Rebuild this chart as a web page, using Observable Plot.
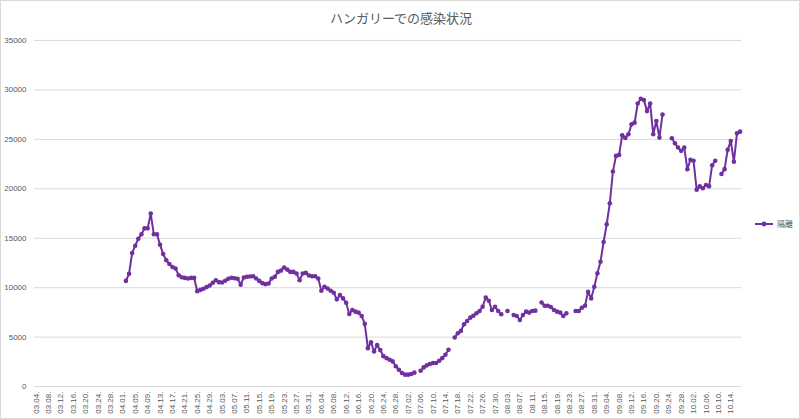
<!DOCTYPE html>
<html>
<head>
<meta charset="utf-8">
<script src="https://cdn.jsdelivr.net/npm/d3@7"></script>
<script src="https://cdn.jsdelivr.net/npm/@observablehq/plot@0.6"></script>
<style>
  html, body { margin: 0; padding: 0; background: #fff; }
  #wrap { position: relative; width: 800px; height: 419px; box-sizing: border-box; border: 1px solid #d9d9d9; overflow: hidden; }
  #title { position: absolute; left: 0; top: 0; width: 800px; height: 30px; line-height: 34px; text-align: center;
           font-family: "Noto Sans CJK JP", sans-serif; font-size: 13px; color: #595959; }
  #chart { position: absolute; left: -1px; top: 29px; }
  #legend { position: absolute; left: 753px; top: 217px; display: flex; align-items: center;
            font-family: "Noto Sans CJK JP", sans-serif; font-size: 8px; color: #595959; }
  #legend svg { margin-right: 3px; }
</style>
</head>
<body>
<div id="wrap">
  <div id="title">ハンガリーでの感染状況</div>
  <div id="chart"></div>
  <div id="legend"><svg width="20" height="10"><line x1="1" x2="19" y1="5" y2="5" stroke="#7030a0" stroke-width="2"/><circle cx="10" cy="5" r="2.4" fill="#7030a0"/></svg><span>隔離</span></div>
</div>
<script>
// Categories: daily dates 03.04 – 10.17 (2020)
const startDate = "2020-03-04";
const endDate = "2020-10-18";
const seriesName = "隔離";

// Values per day (null = no data)
const values = [
  null,null,null,null,null,null,null,null,null,null,   // 0-9
  null,null,null,null,null,null,null,null,null,null,   // 10-19
  null,null,null,null,null,null,null,null,null,        // 20-28
  10690,11400,13500,14250,14950,15400,16000,16000,17500,15400, // 29-38
  15400,14350,13400,12770,12400,12100,11950,11260,11050,10990, // 39-48
  10930,10990,10990,9650,9780,9900,10060,10230,10500,10760,    // 49-58
  10560,10530,10700,10900,11000,10960,10900,10300,11030,11100, // 59-68
  11130,11160,10930,10690,10460,10360,10430,10930,11100,11600, // 69-78
  11730,12040,11830,11600,11600,11430,10760,11430,11500,11230, // 79-88
  11160,11160,10930,9690,10090,9920,9690,9490,8820,9250,       // 89-98
  8920,8480,7340,7740,7580,7480,7140,6340,3890,4490,           // 99-108
  3550,4190,3690,3080,2880,2720,2550,2050,1710,1370,           // 109-118
  1210,1210,1270,1410,null,1610,1940,2150,2280,2380,           // 119-128
  2380,2610,2880,3220,3720,null,4960,5400,5630,6300,           // 129-138
  6640,6970,7170,7410,7640,8080,9000,8680,7740,8080,           // 139-148
  7640,7310,null,7640,null,7240,7140,6740,7240,7580,           // 149-158
  7480,7640,7680,null,8510,8180,8180,8050,7740,7580,           // 159-168
  7480,7140,7410,null,null,7640,7640,7980,8180,9590,           // 169-178
  8920,10090,11450,12630,14620,16420,18540,21740,23330,23430,  // 179-188
  25420,25150,25510,26520,26690,28630,29100,28970,27860,28630, // 189-198
  25510,26850,25180,27520,null,null,25110,24610,24170,23840,   // 199-208
  24170,21990,22930,22830,19910,20250,20050,20380,20250,22390, // 209-218
  22830,null,21490,21990,23940,24840,22730,25610,25780         // 219-227
];

const yTicks = [0, 5000, 10000, 15000, 20000, 25000, 30000, 35000];

const fmt = d3.timeFormat("%m.%d.");
const dates = d3.timeDay.range(new Date(startDate + "T00:00:00"), new Date(endDate + "T00:00:00")).map(fmt);
const tickDates = dates.filter((d, i) => i % 4 === 0 && i <= 224);

const rows = dates.map((d, i) => ({date: d, value: values[i], series: seriesName}));

const chart = Plot.plot({
  width: 801,
  height: 389,
  marginLeft: 34,
  marginRight: 58,
  marginTop: 10,
  marginBottom: 32,
  style: {fontFamily: "'Liberation Sans', Arial, sans-serif", fontSize: "8px", color: "#595959", background: "transparent", overflow: "visible"},
  x: {type: "point", domain: dates, padding: 0.5, round: false, ticks: tickDates, tickRotate: -90, tickSize: 0, tickPadding: 5, label: null},
  y: {domain: [0, 35000], ticks: yTicks, tickFormat: d3.format("d"), tickSize: 0, tickPadding: 8, label: null},
  marks: [
    Plot.ruleY(yTicks, {stroke: "#d9d9d9", strokeWidth: 1}),
    Plot.line(rows, {x: "date", y: "value", stroke: "#7030a0", strokeWidth: 2}),
    Plot.dot(rows.filter(d => d.value != null), {x: "date", y: "value", fill: "#7030a0", r: 2.3})
  ]
});
document.getElementById("chart").appendChild(chart);
</script>
</body>
</html>
